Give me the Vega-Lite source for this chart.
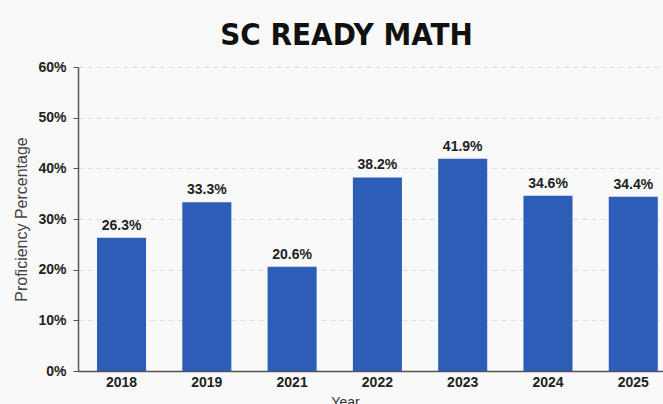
{
  "$schema": "https://vega.github.io/schema/vega-lite/v6.json",
  "width": 585,
  "height": 304,
  "autosize": {"type": "none"},
  "padding": {"left": 78, "top": 67, "right": 0, "bottom": 33},
  "background": "#f9f9f9",
  "title": {
    "text": "SC READY MATH",
    "font": "'Liberation Sans Narrow', 'DejaVu Sans Condensed', 'Roboto Condensed', sans-serif",
    "fontSize": 31,
    "fontWeight": "bold",
    "color": "#111111",
    "anchor": "middle",
    "dx": -24,
    "offset": 8
  },
  "data": {
    "values": [
      {"year": "2018", "pct": 26.3},
      {"year": "2019", "pct": 33.3},
      {"year": "2021", "pct": 20.6},
      {"year": "2022", "pct": 38.2},
      {"year": "2023", "pct": 41.9},
      {"year": "2024", "pct": 34.6},
      {"year": "2025", "pct": 34.4}
    ]
  },
  "config": {
    "view": {"stroke": null},
    "axis": {
      "labelFont": "Liberation Sans",
      "titleFont": "Liberation Sans"
    }
  },
  "encoding": {
    "x": {
      "field": "year",
      "type": "nominal",
      "sort": null,
      "scale": {"paddingInner": 0.425, "paddingOuter": 0.142, "align": 0.785},
      "axis": {
        "title": "Year",
        "titleX": 267,
        "titleFontSize": 14,
        "titleFontWeight": "normal",
        "titleColor": "#333333",
        "titlePadding": 6,
        "labelAngle": 0,
        "labelFontSize": 14,
        "labelFontWeight": "bold",
        "labelColor": "#222222",
        "labelPadding": 4,
        "ticks": false,
        "domainColor": "#555555",
        "domainWidth": 1.5,
        "grid": false
      }
    },
    "y": {
      "field": "pct",
      "type": "quantitative",
      "scale": {"domain": [0, 60]},
      "axis": {
        "title": "Proficiency Percentage",
        "titleFontSize": 16,
        "titleFontWeight": "normal",
        "titleColor": "#444444",
        "titlePadding": 8,
        "values": [0, 10, 20, 30, 40, 50, 60],
        "labelExpr": "datum.value + '%'",
        "labelFontSize": 14,
        "labelFontWeight": "bold",
        "labelColor": "#222222",
        "labelPadding": 7,
        "tickSize": 5,
        "tickColor": "#555555",
        "domainColor": "#555555",
        "domainWidth": 1.5,
        "grid": true,
        "gridColor": "#dddddd",
        "gridDash": [5, 4],
        "gridWidth": 1
      }
    }
  },
  "layer": [
    {"mark": {"type": "bar", "color": "#2c5eb8"}},
    {
      "transform": [{"calculate": "format(datum.pct, '.1f') + '%'", "as": "label"}],
      "mark": {
        "type": "text",
        "dy": -12,
        "font": "Liberation Sans",
        "fontSize": 14,
        "fontWeight": "bold",
        "color": "#222222"
      },
      "encoding": {
        "text": {"field": "label", "type": "nominal"}
      }
    }
  ]
}
